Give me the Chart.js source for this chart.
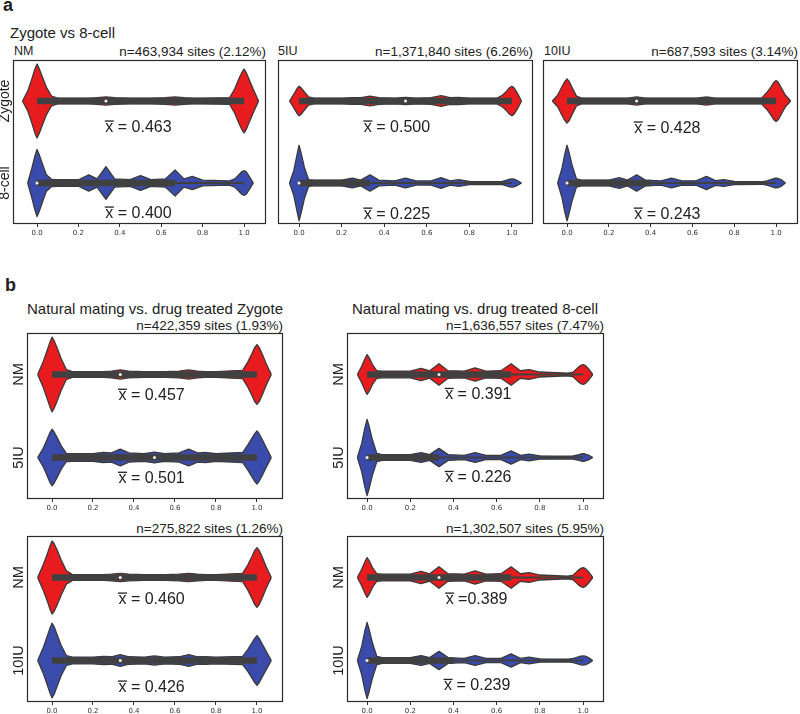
<!DOCTYPE html>
<html><head><meta charset="utf-8">
<script src="https://cdn.jsdelivr.net/npm/chart.js@4.4.1/dist/chart.umd.min.js"></script>
<style>
html,body{margin:0;padding:0;background:#fff;}
body{width:800px;height:714px;position:relative;overflow:hidden;font-family:"Liberation Sans",Arial,sans-serif;color:#222;}
.t{position:absolute;white-space:nowrap;line-height:1;}
canvas{position:absolute;}
</style></head><body>
<script>
// ---------------- DATA ----------------
const tickValues = [0, 0.2, 0.4, 0.6, 0.8, 1.0];
// methylation level positions at which violin half-widths were read
const gridX = [-0.07,-0.045,-0.025,-0.01,0,0.01,0.025,0.045,0.07,0.1,
  0.2,0.25,0.29,0.333,0.375,0.45,0.5,0.55,0.62,0.667,0.71,0.75,0.8,
  0.93,0.955,0.975,0.99,1.0,1.01,1.025,1.045,1.07];

// panel a : Zygote vs 8-cell
const catsA = ['Zygote', '8-cell'];
const nmZygote   = [0,0.12,0.27,0.39,0.45,0.40,0.30,0.17,0.06,0.035, 0.035,0.035,0.04,0.05,0.04,0.035,0.035,0.035,0.04,0.05,0.04,0.035,0.035, 0.04,0.15,0.27,0.35,0.39,0.35,0.26,0.14,0];
const nmCell8    = [null,0,0.18,0.33,0.41,0.35,0.24,0.1,0.045,0.04, 0.04,0.10,0.05,0.20,0.05,0.04,0.09,0.04,0.05,0.16,0.05,0.08,0.035, 0.025,0.05,0.1,0.14,0.15,0.14,0.08,0,null];
const iu5Zygote  = [null,0,0.08,0.15,0.18,0.16,0.11,0.05,0.035,0.035, 0.035,0.04,0.04,0.06,0.04,0.035,0.045,0.035,0.04,0.065,0.04,0.045,0.035, 0.035,0.07,0.12,0.165,0.18,0.16,0.1,0,null];
const iu5Cell8   = [null,0,0.15,0.34,0.46,0.36,0.19,0.04,0.035,0.035, 0.035,0.06,0.035,0.10,0.035,0.025,0.06,0.025,0.025,0.065,0.025,0.04,0.02, 0.015,0.02,0.035,0.048,0.05,0.048,0.03,0,null];
const iu10Zygote = [0,0.07,0.17,0.24,0.27,0.24,0.16,0.06,0.035,0.035, 0.035,0.035,0.035,0.05,0.035,0.035,0.035,0.035,0.035,0.05,0.035,0.035,0.035, 0.035,0.1,0.17,0.23,0.25,0.23,0.16,0.07,0];
const iu10Cell8  = [null,0,0.17,0.36,0.46,0.37,0.21,0.05,0.035,0.035, 0.035,0.065,0.035,0.10,0.035,0.025,0.06,0.025,0.03,0.08,0.03,0.04,0.02, 0.015,0.025,0.04,0.055,0.06,0.055,0.04,0,null];

// panel b : natural mating vs drug treated
const catsB1 = ['NM', '5IU'];
const catsB2 = ['NM', '10IU'];
const zyNM_1  = [0,0.14,0.28,0.39,0.45,0.41,0.32,0.19,0.06,0.035, 0.035,0.035,0.04,0.055,0.04,0.035,0.035,0.035,0.04,0.055,0.04,0.035,0.035, 0.05,0.15,0.25,0.33,0.36,0.33,0.25,0.13,0];
const zy5IU   = [0,0.1,0.21,0.3,0.34,0.31,0.24,0.14,0.05,0.045, 0.045,0.06,0.055,0.10,0.055,0.045,0.065,0.045,0.055,0.10,0.055,0.06,0.045, 0.06,0.15,0.23,0.29,0.32,0.29,0.22,0.12,0];
const c8NM_1  = [null,0,0.1,0.19,0.24,0.2,0.12,0.045,0.04,0.04, 0.04,0.075,0.045,0.13,0.045,0.04,0.08,0.04,0.045,0.13,0.045,0.06,0.03, 0.015,0.03,0.08,0.11,0.12,0.11,0.07,0,null];
const c8_5IU  = [null,0,0.17,0.36,0.46,0.37,0.21,0.05,0.035,0.035, 0.035,0.06,0.035,0.11,0.035,0.025,0.06,0.025,0.025,0.08,0.025,0.04,0.02, 0.015,0.02,0.03,0.042,0.045,0.042,0.03,0,null];
const zyNM_2  = [0,0.14,0.27,0.38,0.44,0.41,0.33,0.21,0.08,0.035, 0.035,0.035,0.04,0.05,0.04,0.035,0.035,0.035,0.04,0.05,0.04,0.035,0.035, 0.05,0.15,0.25,0.33,0.36,0.33,0.25,0.13,0];
const zy10IU  = [0,0.14,0.28,0.39,0.45,0.41,0.31,0.18,0.06,0.04, 0.04,0.05,0.045,0.07,0.045,0.04,0.055,0.04,0.045,0.07,0.045,0.045,0.04, 0.05,0.13,0.21,0.27,0.30,0.27,0.2,0.11,0];
const c8NM_2  = [null,0,0.1,0.19,0.24,0.2,0.12,0.045,0.04,0.04, 0.04,0.075,0.045,0.13,0.045,0.04,0.08,0.04,0.045,0.13,0.045,0.06,0.03, 0.015,0.03,0.08,0.11,0.12,0.11,0.07,0,null];
const c8_10IU = [null,0,0.17,0.36,0.46,0.37,0.21,0.05,0.035,0.035, 0.035,0.06,0.035,0.11,0.035,0.025,0.06,0.025,0.025,0.08,0.025,0.04,0.02, 0.015,0.025,0.04,0.052,0.055,0.052,0.035,0,null];

// mean labels (top violin, bottom violin) per panel
const meansA1 = ['0.463', '0.400'];
const meansA2 = ['0.500', '0.225'];
const meansA3 = ['0.428', '0.243'];
const meansB1 = ['0.457', '0.501'];
const meansB2 = ['0.391', '0.226'];
const meansB3 = ['0.460', '0.426'];
const meansB4 = ['0.389', '0.239'];
// inner box: third quartile and median (first quartile 0, whiskers 0..1)
const q3A  = [[1, 0.667], [1, 0.333], [1, 0.4]];
const medA = [[0.333, 0], [0.5, 0], [0.333, 0]];
const q3B  = [[1, 1], [0.667, 0.333], [1, 1], [0.667, 0.4]];
const medB = [[0.333, 0.5], [0.333, 0], [0.333, 0.333], [0.333, 0]];

// ---------------- STYLE / LAYOUT ----------------
const RED = '#e81c1e', BLUE = '#3a4bab', EDGE = '#3a3a3a', BAR = '#404040';
const FONT = '"Liberation Sans", Arial, sans-serif';

function txt(s, x, base, size, o) {
  o = o || {};
  const d = document.createElement('div');
  d.className = 't';
  d.textContent = s;
  d.style.fontSize = size + 'px';
  if (o.bold) d.style.fontWeight = 'bold';
  d.style.top = (base - 0.8465 * size) + 'px';
  if (o.align === 'right') d.style.right = (800 - x) + 'px';
  else if (o.align === 'center') { d.style.left = x + 'px'; d.style.transform = 'translateX(-50%)'; }
  else d.style.left = x + 'px';
  document.body.appendChild(d);
}

const deco = {
  id: 'deco',
  afterDraw(chart) {
    const p = chart.options.plugins.deco;
    const {ctx, chartArea: a, scales: {x, y}} = chart;
    ctx.save();
    ctx.strokeStyle = '#2b2b2b'; ctx.lineWidth = 1.2;
    ctx.strokeRect(a.left + 0.5, a.top + 0.5, a.right - a.left - 1, a.bottom - a.top - 1);
    ctx.fillStyle = '#222';
    ctx.font = p.catSize + 'px ' + FONT;
    p.cats.forEach((c, i) => {
      ctx.save();
      ctx.translate(a.left - p.catGap, y.getPixelForValue(i));
      ctx.rotate(-Math.PI / 2);
      ctx.textAlign = 'center'; ctx.textBaseline = 'alphabetic';
      ctx.fillText(c, 0, 0);
      ctx.restore();
    });
    ctx.font = '16px ' + FONT;
    ctx.textAlign = 'left'; ctx.textBaseline = 'alphabetic';
    p.means.forEach((m, i) => {
      const full = 'x' + p.sep[i] + m;
      const w = ctx.measureText(full).width;
      const cx = x.getPixelForValue(p.labelX[i]);
      const by = y.getPixelForValue(i + p.labelDy[i]);
      const sx = cx - w / 2;
      ctx.fillText(full, sx, by);
      const xw = ctx.measureText('x').width;
      ctx.fillRect(sx - 0.5, by - 11.6, xw + 1, 1.3);
    });
    ctx.restore();
  }
};

function panel(cfg) {
  const padL = 26, padR = 6, padT = 4, axisH = 20;
  const [L, T, R, B] = cfg.box;
  const W = R - L + padL + padR, H = B - T + padT + axisH;
  const cv = document.createElement('canvas');
  cv.width = W; cv.height = H;
  cv.style.left = (L - padL) + 'px'; cv.style.top = (T - padT) + 'px';
  cv.style.width = W + 'px'; cv.style.height = H + 'px';
  document.body.appendChild(cv);
  const ds = [];
  cfg.hw.forEach((h, i) => {
    ds.push({data: [{x: cfg.med[i], y: i}], showLine: false, pointRadius: 1.5, pointBackgroundColor: '#f4f4f4', pointBorderWidth: 0, order: 0});
    ds.push({data: [{x: 0, y: i}, {x: cfg.q3[i], y: i}], borderColor: BAR, borderWidth: 6.5, pointRadius: 0, order: 1});
    ds.push({data: [{x: 0, y: i}, {x: 1, y: i}], borderColor: BAR, borderWidth: 1.8, pointRadius: 0, order: 2});
  });
  cfg.hw.forEach((h, i) => {
    const col = cfg.colors[i];
    ds.push({data: gridX.map((x, k) => ({x, y: h[k] == null ? null : i - h[k]})), borderColor: EDGE, borderWidth: 1.3, pointRadius: 0, fill: false, order: 3});
    ds.push({data: gridX.map((x, k) => ({x, y: h[k] == null ? null : i + h[k]})), borderColor: EDGE, borderWidth: 1.3, pointRadius: 0, fill: '-1', backgroundColor: col, order: 3});
  });
  new Chart(cv, {
    type: 'line',
    data: {datasets: ds},
    plugins: [deco],
    options: {
      responsive: false, animation: false, devicePixelRatio: 1, events: [],
      layout: {padding: {left: padL, right: padR, top: padT, bottom: 0}},
      elements: {line: {tension: 0, borderJoinStyle: 'round'}},
      plugins: {
        legend: {display: false}, tooltip: {enabled: false},
        deco: {cats: cfg.cats, catGap: cfg.catGap, catSize: cfg.catSize, means: cfg.means, sep: cfg.sep || [' = ', ' = '], labelX: cfg.labelX, labelDy: cfg.labelDy}
      },
      scales: {
        x: {
          type: 'linear', min: cfg.xr[0], max: cfg.xr[1],
          afterFit: s => { s.height = axisH; },
          afterBuildTicks: s => { s.ticks = tickValues.map(v => ({value: v})); },
          ticks: {font: {family: '"DejaVu Sans"', size: 7}, color: '#333', padding: 2, maxRotation: 0, autoSkip: false, callback: v => v.toFixed(1)},
          grid: {display: true, drawOnChartArea: false, drawTicks: true, tickLength: 3, color: '#333'},
          border: {display: false}
        },
        y: {type: 'linear', min: -0.5, max: 1.5, reverse: true, display: false}
      }
    }
  });
}

// ---------------- TEXT ----------------
txt('a', 3, 11, 18, {bold: true});
txt('Zygote vs 8-cell', 10, 38, 15);
txt('NM', 14, 56, 12.5);
txt('n=463,934 sites (2.12%)', 266, 56, 13.5, {align: 'right'});
txt('5IU', 278, 56, 12.5);
txt('n=1,371,840 sites (6.26%)', 533, 56, 13.5, {align: 'right'});
txt('10IU', 544, 56, 12.5);
txt('n=687,593 sites (3.14%)', 798, 56, 13.5, {align: 'right'});
txt('b', 5, 291, 18, {bold: true});
txt('Natural mating vs. drug treated Zygote', 155, 314, 15, {align: 'center'});
txt('n=422,359 sites (1.93%)', 283, 330, 13.5, {align: 'right'});
txt('Natural mating vs. drug treated 8-cell', 475, 314, 15, {align: 'center'});
txt('n=1,636,557 sites (7.47%)', 604, 330, 13.5, {align: 'right'});
txt('n=275,822 sites (1.26%)', 283, 533, 13.5, {align: 'right'});
txt('n=1,302,507 sites (5.95%)', 604, 533, 13.5, {align: 'right'});

// ---------------- PANELS ----------------
panel({box: [13, 60, 266, 224], xr: [-0.116, 1.106], cats: catsA, catGap: 4, catSize: 14,
  hw: [nmZygote, nmCell8], colors: [RED, BLUE], means: meansA1, q3: q3A[0], med: medA[0], labelX: [0.49, 0.49], labelDy: [0.378, 0.427]});
panel({box: [278, 60, 533, 224], xr: [-0.099, 1.099], cats: [], catGap: 4, catSize: 14,
  hw: [iu5Zygote, iu5Cell8], colors: [RED, BLUE], means: meansA2, q3: q3A[1], med: medA[1], labelX: [0.46, 0.46], labelDy: [0.378, 0.44]});
panel({box: [543, 60, 798, 224], xr: [-0.115, 1.105], cats: [], catGap: 4, catSize: 14,
  hw: [iu10Zygote, iu10Cell8], colors: [RED, BLUE], means: meansA3, q3: q3A[2], med: medA[2], labelX: [0.48, 0.48], labelDy: [0.39, 0.44]});
panel({box: [27, 333, 283, 499], xr: [-0.122, 1.127], cats: catsB1, catGap: 4, catSize: 14.5,
  hw: [zyNM_1, zy5IU], colors: [RED, BLUE], means: meansB1, q3: q3B[0], med: medB[0], labelX: [0.486, 0.486], labelDy: [0.31, 0.31]});
panel({box: [347, 333, 604, 499], xr: [-0.093, 1.097], cats: catsB1, catGap: 4, catSize: 14.5,
  hw: [c8NM_1, c8_5IU], colors: [RED, BLUE], means: meansB2, q3: q3B[1], med: medB[1], labelX: [0.515, 0.515], labelDy: [0.30, 0.30]});
panel({box: [27, 536, 283, 702], xr: [-0.122, 1.127], cats: catsB2, catGap: 4, catSize: 14.5,
  hw: [zyNM_2, zy10IU], colors: [RED, BLUE], means: meansB3, q3: q3B[2], med: medB[2], labelX: [0.486, 0.486], labelDy: [0.32, 0.38]});
panel({box: [347, 536, 604, 702], xr: [-0.093, 1.097], cats: catsB2, catGap: 4, catSize: 14.5,
  hw: [c8NM_2, c8_10IU], colors: [RED, BLUE], means: meansB4, q3: q3B[3], med: medB[3], labelX: [0.507, 0.51], labelDy: [0.32, 0.36], sep: [' =', ' = ']});
</script>
</body></html>
